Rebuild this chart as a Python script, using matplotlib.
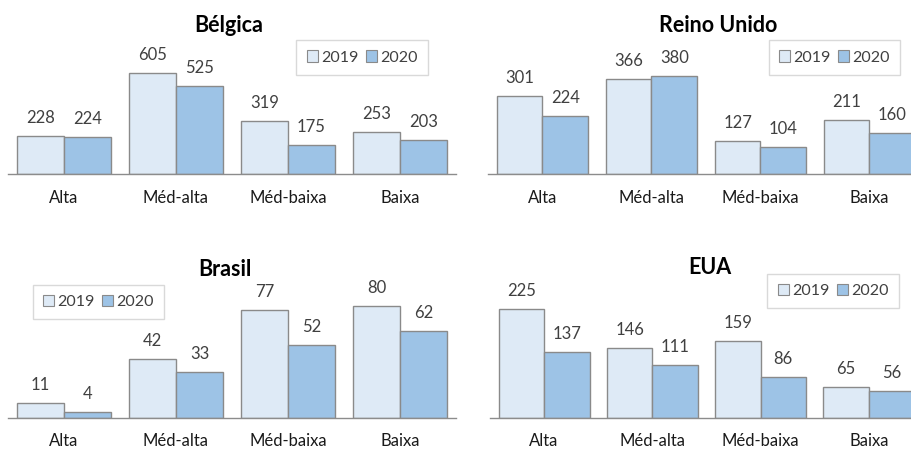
import matplotlib
matplotlib.use("Agg")
import matplotlib.pyplot as plt
from matplotlib.patches import Patch

plt.rcParams['font.family'] = ['Lato', 'DejaVu Sans']

categories = ["Alta", "Méd-alta", "Méd-baixa", "Baixa"]
series_names = ["2019", "2020"]

belgica_2019 = [228, 605, 319, 253]
belgica_2020 = [224, 525, 175, 203]
reino_unido_2019 = [301, 366, 127, 211]
reino_unido_2020 = [224, 380, 104, 160]
brasil_2019 = [11, 42, 77, 80]
brasil_2020 = [4, 33, 52, 62]
eua_2019 = [225, 146, 159, 65]
eua_2020 = [137, 111, 86, 56]

W, H = 912, 450
fig = plt.figure(figsize=(W / 100, H / 100), dpi=100)

c2019 = "#DEEAF6"
c2020 = "#9DC3E6"
edge = "#8A8A8A"
txt = "#404040"

def px_axes(left, right, top, bottom):
    return fig.add_axes([left / W, 1 - bottom / H, (right - left) / W, (bottom - top) / H])

panels = [
    dict(title="Bélgica", v1=belgica_2019, v2=belgica_2020, box=(8, 456, 20, 174.3), ymax=921,
         tpos=(229, 25), lpos=(362, 57.5)),
    dict(title="Reino Unido", v1=reino_unido_2019, v2=reino_unido_2020, box=(488, 924, 20, 174.3), ymax=595,
         tpos=(718, 25), lpos=(834.5, 57.5)),
    dict(title="Brasil", v1=brasil_2019, v2=brasil_2020, box=(8, 456, 264, 418), ymax=110,
         tpos=(225, 270), lpos=(98.5, 302)),
    dict(title="EUA", v1=eua_2019, v2=eua_2020, box=(490, 923, 264, 418.2), ymax=319,
         tpos=(710, 267), lpos=(833, 291)),
]

bw = 0.42
for p in panels:
    ax = px_axes(*p["box"])
    x = list(range(len(categories)))
    b1 = ax.bar([i - bw / 2 for i in x], p["v1"], width=bw, color=c2019, edgecolor=edge, linewidth=1.0)
    b2 = ax.bar([i + bw / 2 for i in x], p["v2"], width=bw, color=c2020, edgecolor=edge, linewidth=1.0)
    for bars, vals in ((b1, p["v1"]), (b2, p["v2"])):
        for r, v in zip(bars, vals):
            ax.annotate(str(v), (r.get_x() + r.get_width() / 2, r.get_height()),
                        xytext=(0, 18), textcoords="offset pixels", ha="center", va="center",
                        fontsize=12, color=txt)
    ax.set_xlim(-0.5, 3.5)
    ax.set_ylim(0, p["ymax"])
    ax.set_xticks(x)
    ax.set_xticklabels(categories, fontsize=12, color="#1a1a1a")
    ax.tick_params(axis="x", length=0, pad=11)
    ax.set_yticks([])
    for s in ("left", "right", "top"):
        ax.spines[s].set_visible(False)
    ax.spines["bottom"].set_color("#8C8C8C")
    ax.spines["bottom"].set_linewidth(1.0)
    ax.patch.set_alpha(0)
    fig.text(p["tpos"][0] / W, 1 - p["tpos"][1] / H, p["title"], ha="center", va="center",
             fontsize=15.5, fontweight="bold", color="black")
    handles = [Patch(facecolor=c2019, edgecolor=edge, linewidth=0.8),
               Patch(facecolor=c2020, edgecolor=edge, linewidth=0.8)]
    leg = fig.legend(handles, series_names, loc="center",
                     bbox_to_anchor=(p["lpos"][0] / W, 1 - p["lpos"][1] / H),
                     ncol=2, fontsize=11.5, frameon=True, fancybox=False,
                     handlelength=0.7, handleheight=0.7, handletextpad=0.2,
                     columnspacing=0.45, borderpad=0.65, borderaxespad=0)
    leg.get_frame().set_edgecolor("#D0D0D0")
    leg.get_frame().set_linewidth(1.0)
    for t in leg.get_texts():
        t.set_color(txt)

fig.savefig("out.png", dpi=100)
